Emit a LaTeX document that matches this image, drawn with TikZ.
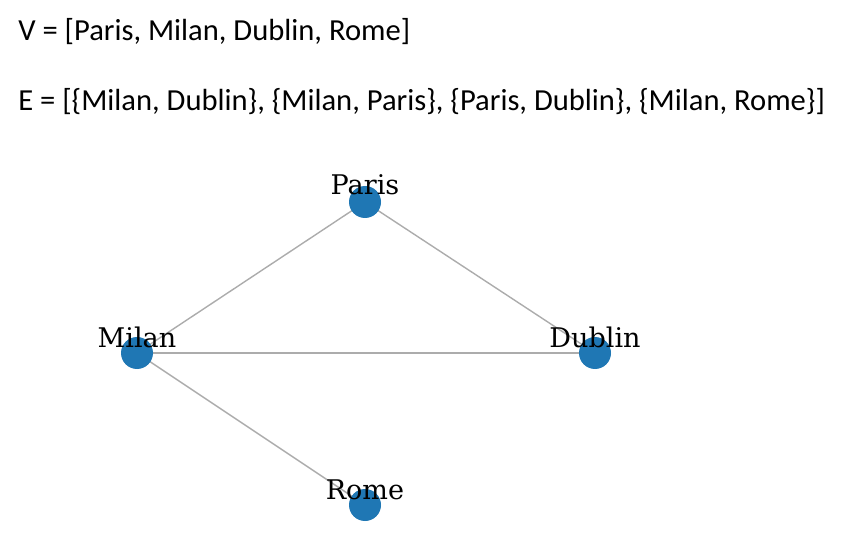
\documentclass[tikz,border=0pt]{standalone}
\usepackage{fontspec}
\setmainfont{Carlito}
\newfontfamily\labelfont{DejaVu Serif}
\usetikzlibrary{positioning,backgrounds}
\definecolor{nodeblue}{RGB}{31,119,180}

\begin{document}
\begin{tikzpicture}
\tikzstyle{city}=[circle,fill=nodeblue,minimum size=0.64cm,inner sep=0pt]
\tikzstyle{cityname}=[anchor=base,inner sep=0pt,font=\labelfont\fontsize{15.4}{17}\selectfont]
\tikzstyle{edge}=[draw=gray!65,line width=0.8pt]
\tikzstyle{listtext}=[anchor=base west,inner sep=0pt,font=\fontsize{17.4}{20}\selectfont]
\useasboundingbox (0,0) rectangle (16.94,-10.86);
\node[listtext] (vset) at (0.36,-0.81) {V = [Paris, Milan, Dublin, Rome]};
\node[listtext] (eset) at (0.36,-2.21) {E = [\{Milan, Dublin\}, \{Milan, Paris\}, \{Paris, Dublin\}, \{Milan, Rome\}]};
\node[city] (paris) at (7.30,-4.04) {};
\node[city] (milan) at (2.74,-7.06) {};
\node[city] (dublin) at (11.90,-7.06) {};
\node[city] (rome) at (7.30,-10.10) {};
\begin{scope}[on background layer]
\draw[edge] (milan.center) -- (dublin.center);
\draw[edge] (milan.center) -- (paris.center);
\draw[edge] (paris.center) -- (dublin.center);
\draw[edge] (milan.center) -- (rome.center);
\end{scope}
\node[cityname] (parislabel) at ([yshift=0.14cm]paris.center) {Paris};
\node[cityname] (milanlabel) at ([yshift=0.12cm]milan.center) {Milan};
\node[cityname] (dublinlabel) at ([yshift=0.12cm]dublin.center) {Dublin};
\node[cityname] (romelabel) at ([yshift=0.12cm]rome.center) {Rome};
\end{tikzpicture}
\end{document}
